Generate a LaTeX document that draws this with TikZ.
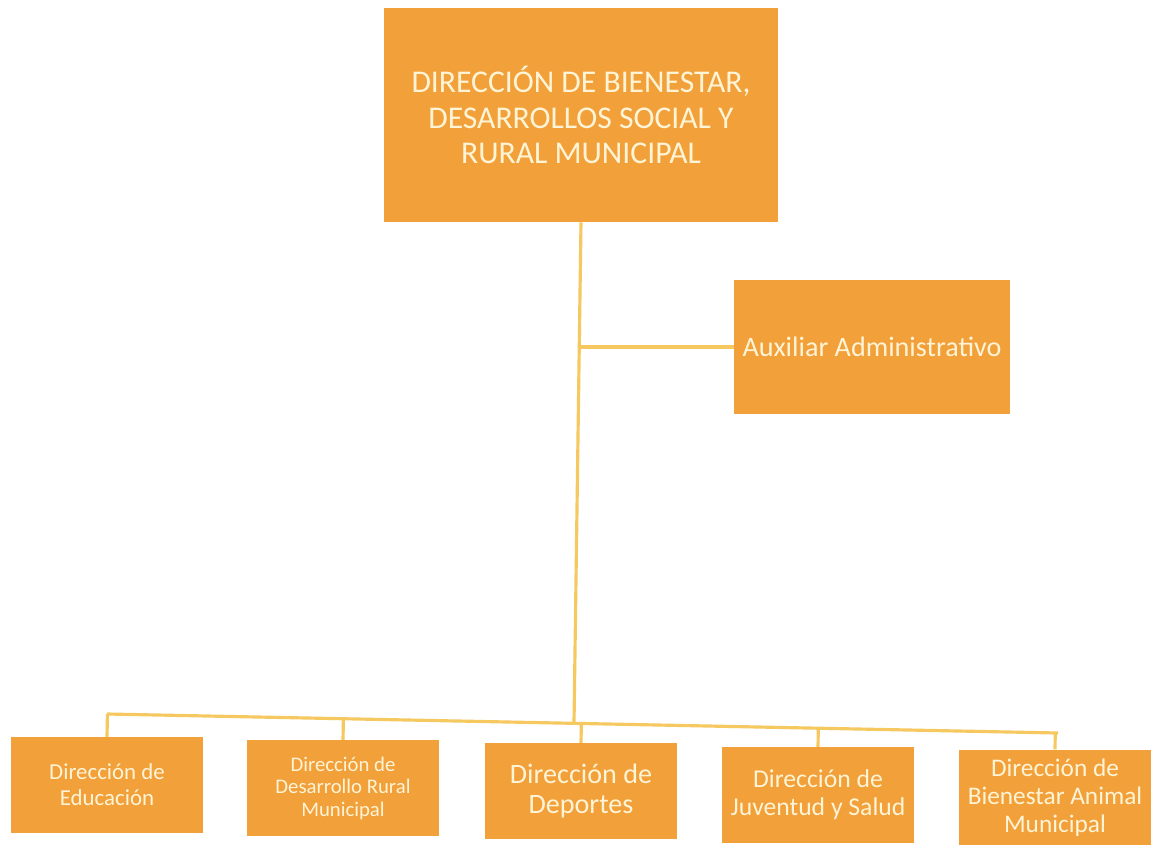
\documentclass[tikz,border=0pt]{standalone}
\usepackage{fontspec}
\setmainfont{Carlito}
\usetikzlibrary{positioning, calc}

\definecolor{boxorange}{HTML}{F2A03A}
\definecolor{lineyellow}{HTML}{F5C860}
\definecolor{boxtext}{HTML}{FFF4D6}

\begin{document}
\begin{tikzpicture}[
    x=0.01cm, y=-0.01cm,
    box/.style={fill=boxorange, text=boxtext, align=center, inner sep=0pt},
    unit/.style={box, minimum width=1.91cm, minimum height=0.95cm},
    link/.style={draw=lineyellow, line width=0.9pt}
]
\useasboundingbox (0,0) rectangle (1151,845);

% Head of the department
\node[box, minimum width=3.93cm, minimum height=2.13cm, font=\fontsize{9}{10}\selectfont] (dir) at (581,115) {DIRECCIÓN DE BIENESTAR,\\DESARROLLOS SOCIAL Y\\RURAL MUNICIPAL};

% Assistant
\node[box, minimum width=2.75cm, minimum height=1.33cm, font=\fontsize{8}{9}\selectfont] (aux) at (872,347) {Auxiliar Administrativo};

% Units
\node[unit, font=\fontsize{6.5}{7.4}\selectfont] (edu) at (107,785) {Dirección de\\Educación};
\node[unit, font=\fontsize{5.9}{6.4}\selectfont] (rural) at (343,788) {Dirección de\\Desarrollo Rural\\Municipal};
\node[unit, font=\fontsize{8}{8.8}\selectfont] (dep) at (581,791) {Dirección de\\Deportes};
\node[unit, font=\fontsize{7.3}{8}\selectfont] (juv) at (818,795) {Dirección de\\Juventud y Salud};
\node[unit, font=\fontsize{7.2}{8}\selectfont] (anim) at (1055,797.5) {Dirección de\\Bienestar Animal\\Municipal};

% Bus
\coordinate (busl) at (107,714);
\coordinate (busr) at (1058,733);
\coordinate (busc) at (574,723);

% Lines
\draw[link] (busl) -- (busr);
\draw[link] (dir.south) -- (busc);
\draw[link] (aux.west) -- (aux.west -| dir.south);
\foreach \n in {edu, rural, dep, juv, anim}
    \draw[link] (\n.north) -- ($(busl)!(\n.north)!(busr)$);

\end{tikzpicture}
\end{document}
